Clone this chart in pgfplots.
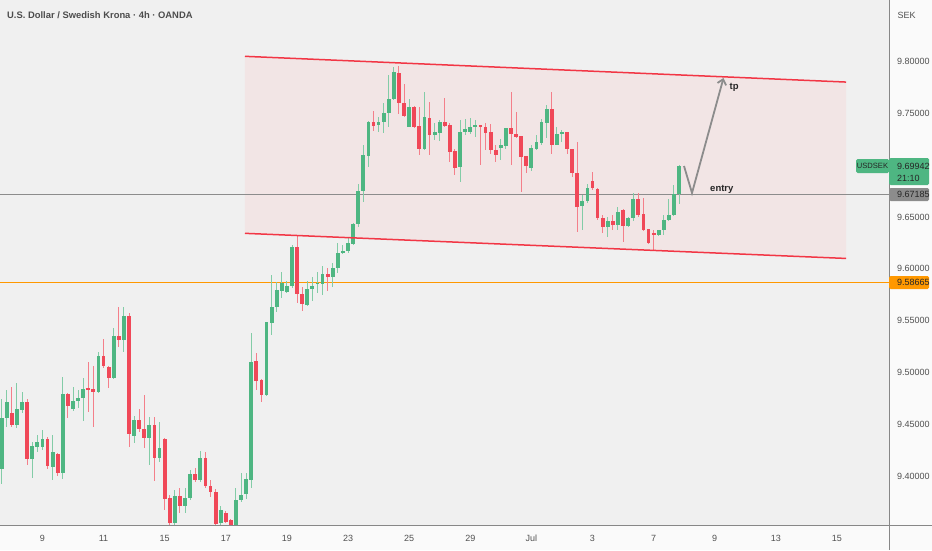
\documentclass[border=0pt]{standalone}
\usepackage{pgfplots}
\pgfplotsset{compat=1.18}
\usepackage{pgfplotstable}
\usepackage{fontspec}
\setmainfont{Liberation Sans}
\usetikzlibrary{arrows.meta}
\definecolor{upc}{RGB}{78,182,130}
\definecolor{dnc}{RGB}{240,72,88}
\definecolor{bgc}{RGB}{240,240,240}
\definecolor{outc}{RGB}{250,250,250}
\definecolor{chan}{RGB}{242,229,229}
\definecolor{chline}{RGB}{242,54,69}
\definecolor{orng}{RGB}{255,152,0}
\definecolor{hline}{RGB}{140,140,140}
\definecolor{arrc}{RGB}{140,140,140}
\definecolor{txtc}{RGB}{80,80,80}
\definecolor{axc}{RGB}{135,135,135}

\pgfplotstableread{
i O H L C
0 9.4068 9.4751 9.3933 9.4559
1 9.4559 9.4833 9.4479 9.4713
3 9.4495 9.4897 9.4463 9.4649
4 9.4639 9.4817 9.4607 9.4713
6 9.4167 9.4329 9.3981 9.4294
7 9.4287 9.4397 9.4231 9.4332
8 9.4287 9.4447 9.4255 9.4358
10 9.4093 9.4397 9.3965 9.4233
12 9.4029 9.4954 9.3972 9.4794
14 9.4646 9.4865 9.4633 9.4729
15 9.4729 9.4833 9.4655 9.4759
16 9.4753 9.4951 9.4537 9.4839
19 9.4817 9.5201 9.4801 9.5159
22 9.4954 9.5433 9.4935 9.5353
24 9.5315 9.5634 9.5201 9.5548
26 9.4393 9.4582 9.4319 9.4543
29 9.4367 9.4575 9.4109 9.4495
31 9.4173 9.4521 9.4141 9.4278
34 9.3554 9.3869 9.3532 9.3813
36 9.3717 9.3885 9.3643 9.3794
37 9.3787 9.4061 9.3771 9.4020
39 9.3965 9.4246 9.3949 9.4173
43 9.3547 9.3714 9.3532 9.3676
46 9.3532 9.3885 9.3510 9.3771
47 9.3771 9.4029 9.3755 9.3826
48 9.3826 9.4029 9.3787 9.3975
49 9.3966 9.5378 9.3886 9.5105
52 9.4785 9.5490 9.4769 9.5484
53 9.5481 9.5941 9.5362 9.5634
54 9.5634 9.5877 9.5581 9.5797
55 9.5791 9.5973 9.5714 9.5861
56 9.5781 9.5887 9.5765 9.5836
57 9.5836 9.6229 9.5813 9.6213
60 9.5650 9.5887 9.5644 9.5810
61 9.5807 9.5925 9.5692 9.5839
62 9.5855 9.5973 9.5765 9.5867
63 9.5855 9.6027 9.5743 9.5951
65 9.5925 9.6059 9.5829 9.6005
66 9.6005 9.6253 9.5963 9.6158
67 9.6155 9.6229 9.6142 9.6174
68 9.6174 9.6295 9.6155 9.6247
69 9.6240 9.6439 9.6229 9.6429
70 9.6429 9.6818 9.6407 9.6754
71 9.6754 9.7192 9.6646 9.7102
72 9.7090 9.7425 9.6978 9.7412
74 9.7387 9.7467 9.7323 9.7419
75 9.7412 9.7595 9.7307 9.7505
76 9.7505 9.7868 9.7371 9.7633
77 9.7633 9.7948 9.7627 9.7894
80 9.7371 9.7633 9.7366 9.7563
83 9.7154 9.7707 9.7144 9.7460
85 9.7291 9.7403 9.7243 9.7323
86 9.7307 9.7435 9.7234 9.7412
90 9.6978 9.7435 9.6840 9.7323
91 9.7323 9.7441 9.7291 9.7345
92 9.7316 9.7451 9.7301 9.7371
93 9.7371 9.7435 9.7275 9.7387
98 9.7160 9.7249 9.7048 9.7192
99 9.7186 9.7361 9.7154 9.7355
104 9.6968 9.7192 9.6946 9.7166
105 9.7160 9.7291 9.7144 9.7224
106 9.7208 9.7441 9.7192 9.7412
107 9.7409 9.7579 9.7259 9.7540
109 9.7198 9.7371 9.7192 9.7300
110 9.7297 9.7339 9.7224 9.7323
114 9.6605 9.6712 9.6375 9.6656
115 9.6656 9.6818 9.6630 9.6783
119 9.6407 9.6503 9.6311 9.6461
121 9.6423 9.6598 9.6375 9.6551
123 9.6413 9.6503 9.6400 9.6487
124 9.6487 9.6733 9.6464 9.6672
129 9.6324 9.6375 9.6321 9.6375
130 9.6375 9.6519 9.6327 9.6471
131 9.6471 9.6678 9.6467 9.6519
132 9.6519 9.6808 9.6512 9.6719
133 9.6719 9.7000 9.6621 9.69942
}\upc

\pgfplotstableread{
i O H L C
2 9.4614 9.4858 9.4479 9.4495
5 9.4713 9.4745 9.4109 9.4167
9 9.4361 9.4383 9.4068 9.4103
11 9.4221 9.4230 9.4004 9.4029
13 9.4794 9.4801 9.4566 9.4681
17 9.4849 9.5099 9.4623 9.4839
18 9.4839 9.5063 9.4473 9.4817
20 9.5159 9.5321 9.5041 9.5063
21 9.5057 9.5063 9.4849 9.4954
23 9.5353 9.5634 9.5251 9.5315
25 9.5548 9.5577 9.4287 9.4405
27 9.4543 9.4646 9.4431 9.4457
28 9.4457 9.4785 9.4271 9.4367
30 9.4495 9.4575 9.3956 9.4173
32 9.4361 9.4367 9.3676 9.3781
33 9.3794 9.3819 9.3532 9.3554
35 9.3813 9.3892 9.3653 9.3717
38 9.4023 9.4077 9.3949 9.3965
40 9.4173 9.4233 9.3885 9.3908
41 9.3908 9.3965 9.3803 9.3847
42 9.3847 9.3879 9.3532 9.3539
44 9.3643 9.3666 9.3547 9.3563
45 9.3579 9.3593 9.3510 9.3532
50 9.5111 9.5191 9.4833 9.4922
51 9.4929 9.4935 9.4719 9.4785
58 9.6213 9.6317 9.5669 9.5756
59 9.5756 9.5829 9.5596 9.5657
64 9.5951 9.6011 9.5791 9.5919
73 9.7412 9.7521 9.7332 9.7380
78 9.7884 9.7955 9.7489 9.7595
79 9.7595 9.7782 9.7460 9.7473
81 9.7563 9.7569 9.7355 9.7364
82 9.7380 9.7556 9.7102 9.7154
84 9.7451 9.7611 9.7102 9.7291
87 9.7412 9.7643 9.7371 9.7380
88 9.7387 9.7403 9.7032 9.7128
89 9.7135 9.7154 9.6904 9.6978
94 9.7387 9.7391 9.7000 9.7371
95 9.7371 9.7403 9.7144 9.7313
96 9.7316 9.7396 9.7112 9.7144
97 9.7144 9.7192 9.7026 9.7096
100 9.7355 9.7706 9.7000 9.7297
101 9.7300 9.7508 9.7259 9.7275
102 9.7281 9.7281 9.6744 9.7080
103 9.7086 9.7086 9.6927 9.6991
108 9.7540 9.7706 9.7106 9.7198
111 9.7323 9.7323 9.7106 9.7160
112 9.7160 9.7160 9.6888 9.6927
113 9.6927 9.7224 9.6359 9.6598
116 9.6850 9.6936 9.6760 9.6776
117 9.6770 9.6776 9.6471 9.6487
118 9.6487 9.6519 9.6343 9.6407
120 9.6461 9.6519 9.6375 9.6423
122 9.6566 9.6573 9.6263 9.6413
125 9.6672 9.6736 9.6503 9.6525
126 9.6525 9.6678 9.6368 9.6375
127 9.6384 9.6384 9.6237 9.6253
128 9.6349 9.6375 9.6174 9.6327
}\dnc

\begin{document}
\begin{tikzpicture}[x=1pt,y=1pt]
\path[use as bounding box] (0,-25) rectangle (932,525);
\fill[outc] (0,-25) rectangle (932,525);
\fill[bgc] (0,0) rectangle (889,525);
\begin{axis}[at={(0,0)}, anchor=south west, scale only axis,
  width=889pt, height=525pt,
  xmin=-0.334, xmax=174.22, ymin=9.3531, ymax=9.85908,
  axis line style={draw=none}, major tick length=0pt,
  xtick={8,20,32,44,56,68,80,92,104,116,128,140,152,164},
  xticklabels={9,11,15,17,19,23,25,29,Jul,3,7,9,13,15},
  xticklabel style={font=\fontsize{9}{10}\selectfont, text=txtc, anchor=base, inner sep=0pt, yshift=-16pt},
  ytick={9.40,9.45,9.50,9.55,9.60,9.65,9.70,9.75,9.80},
  yticklabels={9.40000,9.45000,9.50000,9.55000,9.60000,9.65000,9.70000,9.75000,9.80000},
  yticklabel pos=right,
  yticklabel style={font=\fontsize{9}{10}\selectfont, text=txtc, anchor=west, inner sep=0pt, xshift=8pt},
  clip=true,
]
% channel fill
\addplot[fill=chan, draw=none, forget plot] coordinates {(47.77,9.8048) (165.78,9.7800) (165.78,9.6100) (47.77,9.6342)} -- cycle;
% horizontal levels
\addplot[draw=hline, line width=1.5pt, forget plot] coordinates {(-0.334,9.67185) (174.22,9.67185)};
\addplot[draw=orng, line width=1.6pt, forget plot] coordinates {(-0.334,9.58665) (174.22,9.58665)};
% wicks
\addplot[draw=none, mark=none, forget plot, error bars/.cd, y dir=both, y explicit, error mark=none,
  error bar style={draw=upc!70!white, line width=1pt}]
  table[x=i, y expr={(\thisrow{H}+\thisrow{L})/2}, y error expr={(\thisrow{H}-\thisrow{L})/2}] {\upc};
\addplot[draw=none, mark=none, forget plot, error bars/.cd, y dir=both, y explicit, error mark=none,
  error bar style={draw=dnc!70!white, line width=1pt}]
  table[x=i, y expr={(\thisrow{H}+\thisrow{L})/2}, y error expr={(\thisrow{H}-\thisrow{L})/2}] {\dnc};
% bodies
\addplot[draw=none, mark=none, forget plot, error bars/.cd, y dir=both, y explicit, error mark=none,
  error bar style={draw=upc, line width=3.8pt}]
  table[x=i, y expr={(\thisrow{O}+\thisrow{C})/2}, y error expr={max(abs(\thisrow{C}-\thisrow{O})/2,0.0004)}] {\upc};
\addplot[draw=none, mark=none, forget plot, error bars/.cd, y dir=both, y explicit, error mark=none,
  error bar style={draw=dnc, line width=3.8pt}]
  table[x=i, y expr={(\thisrow{O}+\thisrow{C})/2}, y error expr={max(abs(\thisrow{C}-\thisrow{O})/2,0.0004)}] {\dnc};
% channel lines
\addplot[draw=chline, line width=1.5pt, forget plot] coordinates {(47.77,9.8048) (165.78,9.7800)};
\addplot[draw=chline, line width=1.5pt, forget plot] coordinates {(47.77,9.6342) (165.78,9.6100)};
% projection arrow
\addplot[draw=arrc, line width=1.8pt, -{Straight Barb[length=5pt,width=9pt]}, forget plot]
  coordinates {(133.97,9.6991) (135.54,9.6731) (141.72,9.7839)};
\node[font=\fontsize{9.5}{10}\selectfont\bfseries, text=black!85, anchor=west, inner sep=0pt] at (axis cs:142.9,9.7752) {tp};
\node[font=\fontsize{9.5}{10}\selectfont\bfseries, text=black!85, anchor=center, inner sep=0pt] at (axis cs:141.4,9.6769) {entry};
\end{axis}
% axis lines
\draw[axc, line width=1pt] (0,0) -- (932,0);
\draw[axc, line width=1pt] (889,-25) -- (889,525);
% title and currency
\node[anchor=west, inner sep=0pt, font=\fontsize{9.4}{11}\selectfont\bfseries, text=black!70] at (7,510) {U.S. Dollar / Swedish Krona · 4h · OANDA};
\node[anchor=center, inner sep=0pt, font=\fontsize{9}{10}\selectfont, text=txtc] at (906.5,510) {SEK};
% price labels
\fill[upc, rounded corners=1.5pt] (889,340) rectangle (929,367);
\fill[upc, rounded corners=1.5pt] (856,352) rectangle (889,366);
\node[anchor=center, inner sep=0pt, font=\fontsize{7.6}{8}\selectfont, text=black!85] at (872.5,359) {USDSEK};
\node[anchor=west, inner sep=0pt, font=\fontsize{9}{10}\selectfont, text=black!85] at (897,359) {9.69942};
\node[anchor=west, inner sep=0pt, font=\fontsize{9}{10}\selectfont, text=black!85] at (897,347) {21:10};
\fill[hline, rounded corners=1.5pt] (889,324) rectangle (929,337);
\node[anchor=west, inner sep=0pt, font=\fontsize{9}{10}\selectfont, text=black!85] at (897,330.5) {9.67185};
\fill[orng, rounded corners=1.5pt] (889,236) rectangle (929,249);
\node[anchor=west, inner sep=0pt, font=\fontsize{9}{10}\selectfont, text=black!85] at (897,242.5) {9.58665};
\end{tikzpicture}
\end{document}
